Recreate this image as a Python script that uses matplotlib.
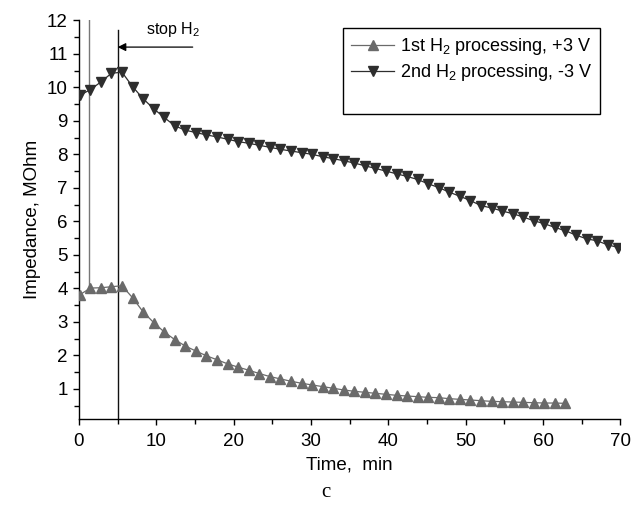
import matplotlib
matplotlib.use("Agg")
import matplotlib.pyplot as plt
from matplotlib.lines import Line2D
from matplotlib.ticker import MultipleLocator

plt.rcParams['font.family'] = ['Liberation Sans', 'DejaVu Sans']
plt.rcParams['mathtext.fontset'] = 'custom'
plt.rcParams['mathtext.rm'] = 'Liberation Sans'
plt.rcParams['mathtext.it'] = 'Liberation Sans:italic'

# 2nd H2 processing, -3 V
time_2 = [0.1, 1.47, 2.83, 4.2, 5.56, 6.93, 8.29, 9.66, 11.02, 12.39, 13.75,
          15.12, 16.48, 17.85, 19.21, 20.58, 21.94, 23.31, 24.67, 26.04, 27.4,
          28.77, 30.13, 31.5, 32.86, 34.23, 35.59, 36.96, 38.32, 39.69, 41.05,
          42.42, 43.78, 45.15, 46.51, 47.88, 49.24, 50.61, 51.97, 53.34, 54.7,
          56.07, 57.43, 58.8, 60.16, 61.53, 62.89, 64.26, 65.62, 66.99, 68.35,
          69.72]
imp_2 = [9.76, 9.93, 10.16, 10.42, 10.45, 10.02, 9.66, 9.36, 9.10, 8.85, 8.72,
         8.65, 8.58, 8.52, 8.45, 8.38, 8.33, 8.27, 8.21, 8.15, 8.10, 8.05,
         8.00, 7.93, 7.87, 7.81, 7.74, 7.66, 7.58, 7.50, 7.42, 7.34, 7.25,
         7.12, 7.01, 6.87, 6.75, 6.62, 6.47, 6.40, 6.31, 6.23, 6.13, 6.02,
         5.93, 5.82, 5.72, 5.59, 5.48, 5.42, 5.30, 5.22]

# 1st H2 processing, +3 V
time_1 = [0.1, 1.47, 2.83, 4.2, 5.56, 6.93, 8.29, 9.66, 11.02, 12.39, 13.75,
          15.12, 16.48, 17.85, 19.21, 20.58, 21.94, 23.31, 24.67, 26.04, 27.4,
          28.77, 30.13, 31.5, 32.86, 34.23, 35.59, 36.96, 38.32, 39.69, 41.05,
          42.42, 43.78, 45.15, 46.51, 47.88, 49.24, 50.61, 51.97, 53.34, 54.7,
          56.07, 57.43, 58.8, 60.16, 61.53, 62.89]
imp_1 = [3.81, 4.01, 4.02, 4.05, 4.08, 3.72, 3.30, 2.98, 2.70, 2.47, 2.28,
         2.13, 1.99, 1.87, 1.75, 1.65, 1.56, 1.46, 1.37, 1.30, 1.23, 1.17,
         1.12, 1.07, 1.02, 0.97, 0.93, 0.90, 0.87, 0.84, 0.81, 0.79, 0.77,
         0.75, 0.74, 0.71, 0.69, 0.67, 0.65, 0.63, 0.62, 0.61, 0.60, 0.59,
         0.58, 0.58, 0.57]

label_1 = "1st H$_2$ processing, +3 V"
label_2 = "2nd H$_2$ processing, -3 V"

fig = plt.figure(figsize=(6.37, 5.2), dpi=100)
ax = fig.add_axes([0.124, 0.194, 0.850, 0.767])

c1 = '#6a6a6a'
c2 = '#2e2e2e'
ms = 7
ax.plot(time_1, imp_1, color=c1, lw=0.9, marker='^', ms=ms, mfc=c1, mec=c1, zorder=3)
ax.plot(time_2, imp_2, color=c2, lw=0.9, marker='v', ms=ms, mfc=c2, mec=c2, zorder=3)

# vertical markers
ax.plot([1.25, 1.25], [4.0, 12.0], color='#777777', lw=1.0, zorder=2)
ax.plot([5.0, 5.0], [0.1, 11.7], color='#111111', lw=1.0, zorder=2)

# arrow + text
ax.annotate('', xy=(5.0, 11.2), xytext=(14.7, 11.2),
            arrowprops=dict(arrowstyle='-|>', color='black', lw=0.9,
                            mutation_scale=12, shrinkA=0, shrinkB=0))
ax.text(12.2, 11.72, 'stop H$_2$', ha='center', va='center', fontsize=11.5)

ax.set_xlim(0, 70)
ax.set_ylim(0.1, 12)
ax.xaxis.set_major_locator(MultipleLocator(10))
ax.xaxis.set_minor_locator(MultipleLocator(5))
ax.set_yticks(range(1, 13))
ax.yaxis.set_minor_locator(MultipleLocator(0.5))
ax.tick_params(which='both', direction='out', labelsize=13.5, width=1.0, color='black')
ax.tick_params(which='major', length=4.5)
ax.tick_params(which='minor', length=3.5)
ax.tick_params(axis='x', which='major', pad=5.5)
for s in ['top', 'right']:
    ax.spines[s].set_visible(False)
for s in ['left', 'bottom']:
    ax.spines[s].set_linewidth(1.0)

ax.set_xlabel('Time,  min', fontsize=13.5, labelpad=5)
ax.set_ylabel('Impedance, MOhm', fontsize=13.5, labelpad=4)

h1 = Line2D([], [], color=c1, lw=0.9, marker='^', ms=ms, mfc=c1, mec=c1)
h2 = Line2D([], [], color=c2, lw=0.9, marker='v', ms=ms, mfc=c2, mec=c2)
h3 = Line2D([], [], color='none')
leg = ax.legend([h1, h2, h3], [label_1, label_2, ' '], loc='upper right',
                bbox_to_anchor=(0.963, 0.981), fontsize=13, frameon=True,
                fancybox=False, edgecolor='black', framealpha=1,
                handlelength=2.4, handletextpad=0.3, borderpad=0.45,
                labelspacing=0.3, borderaxespad=0)
leg.get_frame().set_linewidth(1.0)

fig.text(0.512, 0.052, 'c', fontfamily='Liberation Serif', fontsize=15,
         ha='center', va='center')

fig.savefig('out.png', dpi=100)
